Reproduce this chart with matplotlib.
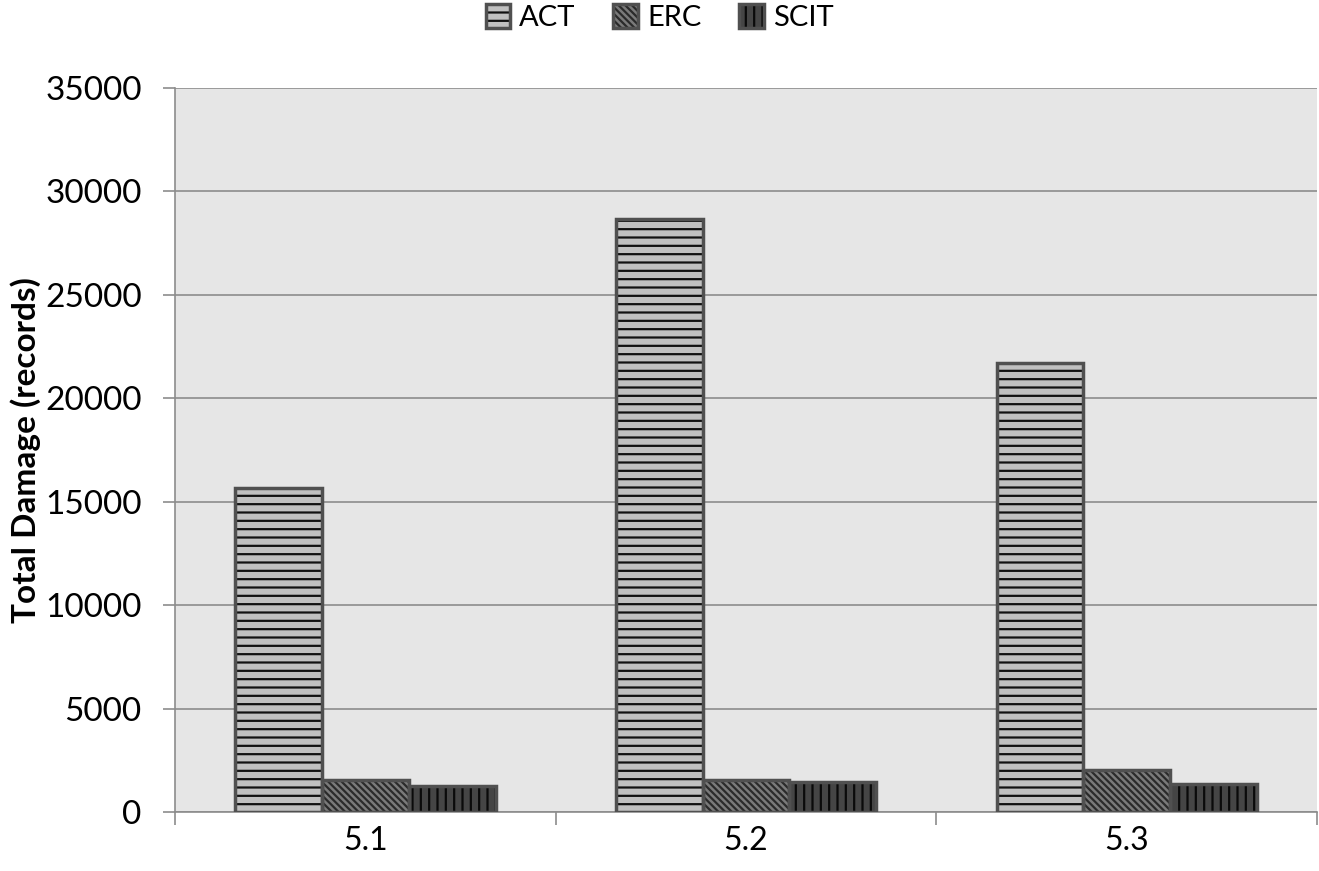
import matplotlib
matplotlib.use("Agg")
import matplotlib.pyplot as plt
from matplotlib.patches import Patch
from matplotlib.legend_handler import HandlerTuple
import numpy as np

categories = ["5.1", "5.2", "5.3"]
series_names = ["ACT", "ERC", "SCIT"]
act = [15650, 28650, 21700]
erc = [1550, 1550, 2050]
scit = [1250, 1450, 1350]
yticks = [0, 5000, 10000, 15000, 20000, 25000, 30000, 35000]

plt.rcParams['font.family'] = ['Lato', 'DejaVu Sans']
plt.rcParams['hatch.linewidth'] = 1.6

fig = plt.figure(figsize=(13.19, 8.71), dpi=100)
ax = fig.add_axes([0.1327, 0.0677, 0.8658, 0.8313])
ax.set_facecolor('#e6e6e6')

x = np.arange(len(categories))
w = 0.228
styles = [
    dict(face='#c0c0c0', hatch='--', hcol='#111111'),
    dict(face='#7a7a7a', hatch='\\\\\\\\\\', hcol='#2a2a2a'),
    dict(face='#454545', hatch='||', hcol='#0a0a0a'),
]
data = [act, erc, scit]
handles = []
for i, (vals, st) in enumerate(zip(data, styles)):
    pos = x + (i - 1) * w
    ax.bar(pos, vals, width=w, color=st['face'], hatch=st['hatch'],
           edgecolor=st['hcol'], linewidth=0, zorder=3)
    ax.bar(pos, vals, width=w, fill=False, edgecolor='#505050', linewidth=2.5, zorder=4)
    h1 = Patch(facecolor=st['face'], hatch=st['hatch'], edgecolor=st['hcol'], linewidth=0)
    h2 = Patch(fill=False, edgecolor='#505050', linewidth=2.5)
    handles.append((h1, h2))

ax.set_xlim(-0.5, 2.5)
ax.set_ylim(0, 35000)
ax.set_yticks(yticks)
ax.set_yticklabels([str(v) for v in yticks], fontsize=24)
ax.yaxis.grid(True, color='#8c8c8c', linewidth=1.2, zorder=0)
ax.set_axisbelow(True)

ax.set_xticks([-0.5, 0.5, 1.5, 2.5])
ax.set_xticklabels(['', '', '', ''])
ax.set_xticks(x, minor=True)
ax.set_xticklabels(categories, minor=True, fontsize=23)
ax.tick_params(axis='x', which='major', length=9, color='#8c8c8c', width=1.2, direction='out')
ax.tick_params(axis='x', which='minor', length=0, pad=10)
ax.tick_params(axis='y', length=9, color='#8c8c8c', width=1.2, direction='out', pad=15)

for s in ['top', 'right']:
    ax.spines[s].set_visible(False)
for s in ['left', 'bottom']:
    ax.spines[s].set_color('#8c8c8c')
    ax.spines[s].set_linewidth(1.2)

ax.set_ylabel('Total Damage (records)', fontsize=24, fontweight='bold', labelpad=3)

leg = fig.legend(handles, series_names, loc='upper center', bbox_to_anchor=(0.5, 1.025),
                 ncol=3, frameon=False, fontsize=21, handlelength=0.85, handleheight=0.85,
                 columnspacing=1.3, handletextpad=0.3,
                 handler_map={tuple: HandlerTuple(ndivide=1)})

fig.savefig('out.png', dpi=100, facecolor='white')
